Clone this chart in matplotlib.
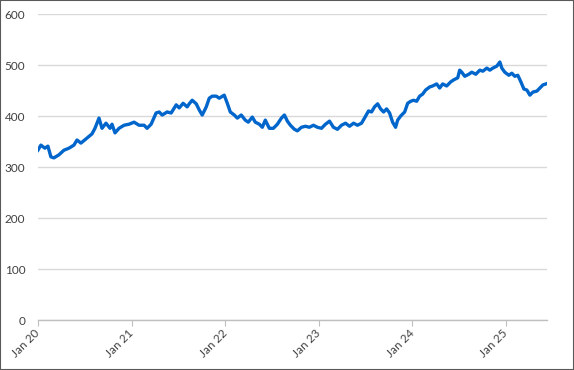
import matplotlib
matplotlib.use("Agg")
import matplotlib.pyplot as plt
import numpy as np
import pandas as pd
from matplotlib.patches import Rectangle

# time in years since 1 Jan 2020
years = [0.000, 0.032, 0.075, 0.107, 0.139, 0.171, 0.225, 0.278, 0.332, 0.385,
         0.418, 0.460, 0.525, 0.578, 0.610, 0.653, 0.685, 0.728, 0.771, 0.792,
         0.824, 0.867, 0.921, 0.974, 1.028, 1.081, 1.135, 1.167, 1.210, 1.263,
         1.296, 1.328, 1.381, 1.424, 1.478, 1.510, 1.552, 1.595, 1.617, 1.649,
         1.692, 1.724, 1.756, 1.799, 1.831, 1.863, 1.906, 1.938, 1.991, 2.024,
         2.056, 2.099, 2.131, 2.173, 2.216, 2.248, 2.291, 2.323, 2.366, 2.398,
         2.430, 2.473, 2.516, 2.559, 2.602, 2.634, 2.666, 2.698, 2.741, 2.773,
         2.816, 2.859, 2.901, 2.944, 2.987, 3.030, 3.073, 3.116, 3.158, 3.201,
         3.244, 3.287, 3.330, 3.373, 3.415, 3.458, 3.490, 3.533, 3.565, 3.597,
         3.630, 3.662, 3.694, 3.726, 3.758, 3.790, 3.822, 3.844, 3.876, 3.919,
         3.951, 3.983, 4.015, 4.047, 4.079, 4.111, 4.143, 4.186, 4.218, 4.261,
         4.293, 4.325, 4.368, 4.411, 4.443, 4.486, 4.507, 4.529, 4.561, 4.604,
         4.636, 4.679, 4.722, 4.754, 4.797, 4.829, 4.861, 4.904, 4.936, 4.957,
         4.989, 5.032, 5.064, 5.096, 5.128, 5.161, 5.193, 5.225, 5.257, 5.289,
         5.332, 5.364, 5.396, 5.428]

values = [333, 343, 337, 341, 320, 318, 324, 333, 337, 343,
          353, 347, 357, 365, 376, 396, 376, 386, 376, 384,
          367, 376, 382, 384, 388, 382, 382, 376, 384, 406,
          408, 402, 408, 406, 422, 416, 425, 418, 424, 431,
          424, 412, 402, 418, 435, 439, 439, 435, 441, 425,
          408, 402, 396, 402, 392, 388, 398, 388, 384, 378,
          392, 376, 376, 384, 396, 402, 390, 382, 374, 371,
          378, 380, 378, 382, 378, 376, 384, 390, 378, 374,
          382, 386, 380, 386, 382, 386, 396, 410, 408, 418,
          424, 414, 408, 414, 406, 388, 378, 392, 400, 408,
          425, 429, 431, 429, 439, 443, 451, 457, 459, 463,
          455, 463, 459, 467, 471, 475, 490, 486, 478, 482,
          486, 482, 490, 488, 494, 490, 494, 498, 506, 494,
          486, 480, 484, 478, 480, 467, 453, 451, 441, 447,
          449, 455, 461, 463]

tick_years = [2020, 2021, 2022, 2023, 2024, 2025]
tick_labels = ["Jan 20", "Jan 21", "Jan 22", "Jan 23", "Jan 24", "Jan 25"]
y_ticks = [0, 100, 200, 300, 400, 500, 600]

start = pd.Timestamp("2020-01-01")
dates = start + pd.to_timedelta(np.array(years) * 365.25, unit="D")

plt.rcParams["font.family"] = ["Lato", "DejaVu Sans"]

fig = plt.figure(figsize=(5.74, 3.70), dpi=100)
ax = fig.add_axes([0.066, 0.135, 0.887, 0.827])

ax.plot(dates, values, color="#0066CC", lw=2.4, solid_joinstyle="round")

ax.set_ylim(0, 600)
ax.set_yticks(y_ticks)
ax.set_xlim(start, pd.Timestamp("2025-06-10"))
ax.set_xticks([pd.Timestamp(f"{y}-01-01") for y in tick_years])
ax.set_xticklabels(tick_labels, rotation=45, ha="right", va="center",
                   rotation_mode="anchor")

ax.grid(axis="y", color="#d9d9d9", lw=1)
ax.set_axisbelow(True)
for s in ["top", "right", "left"]:
    ax.spines[s].set_visible(False)
ax.spines["bottom"].set_color("#bfbfbf")
ax.spines["bottom"].set_linewidth(1)

ax.tick_params(axis="y", length=0, labelsize=8.5, labelcolor="#404040", pad=9)
ax.tick_params(axis="x", length=4, color="#bfbfbf", labelsize=8.5,
               labelcolor="#404040", pad=4)

fig.patches.append(Rectangle((0, 0), 1, 1, transform=fig.transFigure,
                             fill=False, edgecolor="#595959", lw=1.5))

fig.savefig("out.png", dpi=100)
